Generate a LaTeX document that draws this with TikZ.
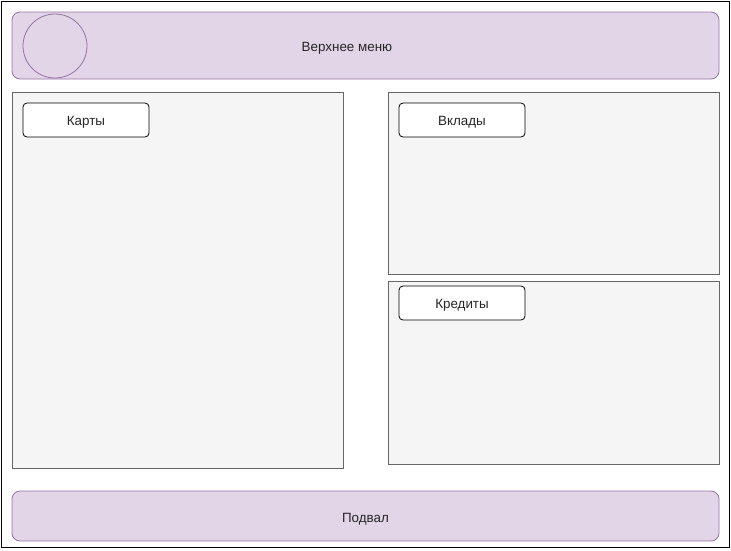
\documentclass[tikz,border=0pt]{standalone}
\usepackage{fontspec}
\setmainfont{Liberation Sans}
\definecolor{lilac}{HTML}{E1D5E7}
\definecolor{lilacline}{HTML}{9673A6}
\definecolor{panelfill}{HTML}{F5F5F5}
\definecolor{panelline}{HTML}{666666}
\newcommand{\lbl}{\fontsize{13.4}{15}\selectfont}

\begin{document}
\begin{tikzpicture}[x=1pt,y=-1pt,line width=0.8pt,
   bar/.style={fill=lilac,draw=lilacline,rounded corners=8pt,inner sep=0pt},
   panel/.style={fill=panelfill,draw=panelline,inner sep=0pt},
   tab/.style={draw=black,fill=white,rounded corners=4pt,inner sep=0pt,
     minimum width=126pt,minimum height=34pt},
   caption/.style={font=\lbl,text=black!85}]
   \useasboundingbox (0,0) rectangle (731,550);
   \draw[black] (1,1) rectangle (729,547);
   % header and footer
   \node[bar,minimum width=707pt,minimum height=67pt] (menu) at (365.5,45.5) {};
   \node[draw=lilacline,circle,minimum size=64pt,inner sep=0pt] (logo) at (55,46) {};
   \node[caption] (menutext) at (347,48.5) {Верхнее меню};
   \node[bar,minimum width=707pt,minimum height=50pt] (footer) at (365.5,516) {};
   \node[caption] (footertext) at (365.5,519.5) {Подвал};
   % panels
   \node[panel,minimum width=331pt,minimum height=376pt] (cards) at (177.5,280) {};
   \node[panel,minimum width=331pt,minimum height=182pt] (deposits) at (553.5,183) {};
   \node[panel,minimum width=331pt,minimum height=183pt] (credits) at (553.5,372.5) {};
   \node[tab] (cardstab) at (86,120) {};
   \node[tab] (depositstab) at (462,120) {};
   \node[tab] (creditstab) at (462,303) {};
   \node[caption] at ([yshift=-2.5pt]cardstab) {Карты};
   \node[caption] at ([yshift=-2.5pt]depositstab) {Вклады};
   \node[caption] at ([yshift=-2.5pt]creditstab) {Кредиты};
\end{tikzpicture}
\end{document}
